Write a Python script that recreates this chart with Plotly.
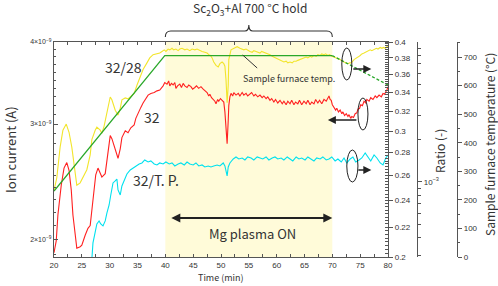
import plotly.graph_objects as go

# ---------------- data ----------------
time_yellow = [20.0, 20.5, 21.1, 21.6, 22.2, 22.7, 23.2, 23.8, 24.1, 24.7, 25.4, 25.9, 26.5, 26.8, 27.4, 27.7,
               28.3, 28.6, 29.0, 29.3, 29.7, 30.1, 30.4, 31.0, 31.5, 31.9, 32.2, 32.8, 33.3, 33.8, 34.4, 34.9,
               35.5, 36.0, 36.7, 37.2, 37.8, 38.5, 39.0, 39.4, 39.8, 40.1, 40.5, 40.8, 41.2, 41.5, 41.9, 42.3,
               42.6, 43.0, 43.5, 43.9, 44.4, 44.8, 45.3, 45.7, 46.2, 46.6, 47.1, 47.5, 47.8, 48.1, 48.4, 48.7,
               49.1, 49.5, 49.8, 50.2, 50.5, 50.7, 50.9, 51.1, 51.3, 51.4, 51.8, 52.3, 52.9, 53.4, 53.8, 54.1,
               54.5, 54.9, 55.2, 55.6, 55.9, 56.3, 56.6, 57.0, 57.3, 57.7, 58.1, 58.4, 58.8, 59.2, 59.5, 59.9,
               60.2, 60.6, 61.0, 61.3, 61.7, 62.0, 62.4, 62.8, 63.1, 63.5, 63.8, 64.2, 64.5, 64.9, 65.3, 65.6,
               66.0, 66.3, 66.7, 67.1, 67.4, 67.8, 68.1, 68.5, 68.8, 69.2, 69.5, 69.9, 70.3, 70.7, 71.0, 71.4,
               71.8, 72.1, 72.5, 72.8, 73.1, 73.4, 73.9, 74.2, 74.6, 75.0, 75.3, 75.7, 76.0, 76.4, 76.8, 77.1,
               77.5, 77.9, 78.2, 78.6, 78.9, 79.2, 79.5, 79.8, 80.0]
ratio_32_28 = [0.248, 0.258, 0.285, 0.301, 0.307, 0.299, 0.285, 0.261, 0.252, 0.254, 0.261, 0.265, 0.278, 0.292, 0.301, 0.304,
               0.301, 0.298, 0.305, 0.313, 0.327, 0.335, 0.332, 0.321, 0.316, 0.323, 0.332, 0.334, 0.333, 0.336, 0.339, 0.348,
               0.357, 0.366, 0.374, 0.380, 0.384, 0.385, 0.386, 0.388, 0.390, 0.388, 0.391, 0.390, 0.392, 0.390, 0.391, 0.389,
               0.391, 0.392, 0.390, 0.391, 0.389, 0.391, 0.390, 0.391, 0.389, 0.388, 0.387, 0.386, 0.384, 0.383, 0.380, 0.375,
               0.371, 0.369, 0.373, 0.375, 0.373, 0.370, 0.354, 0.329, 0.348, 0.378, 0.390, 0.392, 0.394, 0.392, 0.391, 0.390,
               0.391, 0.389, 0.388, 0.387, 0.389, 0.388, 0.387, 0.386, 0.388, 0.387, 0.386, 0.385, 0.384, 0.382, 0.381, 0.380,
               0.379, 0.377, 0.376, 0.375, 0.376, 0.374, 0.375, 0.374, 0.376, 0.376, 0.377, 0.378, 0.379, 0.380, 0.381, 0.380,
               0.382, 0.381, 0.383, 0.382, 0.384, 0.383, 0.385, 0.384, 0.385, 0.383, 0.384, 0.382, 0.381, 0.380, 0.379, 0.378,
               0.376, 0.375, 0.374, 0.373, 0.374, 0.374, 0.378, 0.379, 0.381, 0.383, 0.385, 0.386, 0.387, 0.389, 0.390, 0.389,
               0.390, 0.392, 0.391, 0.393, 0.392, 0.393, 0.392, 0.394, 0.395]

time_red = [20.0, 20.4, 20.7, 21.3, 21.8, 22.3, 22.7, 23.1, 23.4, 23.8, 24.1, 24.7, 25.0, 25.6, 26.1, 26.5,
            26.8, 27.2, 27.5, 27.9, 28.3, 28.6, 29.2, 29.5, 29.9, 30.1, 30.4, 30.8, 31.0, 31.3, 31.5, 31.9,
            32.2, 32.8, 33.3, 33.8, 34.4, 34.7, 35.1, 35.6, 36.0, 36.5, 36.9, 37.4, 38.0, 38.5, 39.0, 39.6,
            39.9, 40.3, 40.6, 40.8, 41.1, 41.4, 41.7, 41.9, 42.2, 42.6, 42.9, 43.2, 43.5, 43.9, 44.2, 44.6,
            44.9, 45.3, 45.6, 46.0, 46.4, 46.8, 47.1, 47.5, 47.8, 48.0, 48.3, 48.6, 48.9, 49.1, 49.4, 49.6,
            49.9, 50.2, 50.5, 50.7, 50.9, 51.1, 51.3, 51.4, 51.6, 51.8, 52.1, 52.3, 52.7, 53.1, 53.4, 53.8,
            54.1, 54.5, 54.8, 55.2, 55.5, 55.9, 56.2, 56.6, 57.0, 57.4, 57.7, 58.1, 58.4, 58.8, 59.1, 59.5,
            59.8, 60.2, 60.6, 61.0, 61.3, 61.7, 62.0, 62.4, 62.7, 63.1, 63.4, 63.8, 64.1, 64.5, 64.9, 65.3,
            65.6, 66.0, 66.3, 66.7, 67.0, 67.4, 67.7, 68.1, 68.5, 68.9, 69.2, 69.4, 69.6, 69.8, 70.0, 70.3,
            70.6, 70.8, 71.1, 71.4, 71.7, 71.9, 72.2, 72.5, 72.8, 73.0, 73.3, 73.5, 73.8, 74.1, 74.4, 74.6,
            74.9, 75.1, 75.4, 75.7, 76.0, 76.2, 76.6, 76.9, 77.3, 77.7, 78.0, 78.4, 78.8, 79.1, 79.4, 79.6,
            79.8, 80.0]
ion_32_nA = [1.91, 1.99, 2.18, 2.42, 2.57, 2.62, 2.55, 2.38, 2.18, 2.01, 1.94, 1.95, 1.96, 2.03, 2.08, 2.10,
             2.21, 2.38, 2.51, 2.57, 2.53, 2.49, 2.52, 2.64, 2.83, 2.88, 2.85, 2.78, 2.75, 2.68, 2.66, 2.75,
             2.86, 2.93, 2.91, 2.96, 2.99, 3.06, 3.12, 3.18, 3.23, 3.28, 3.32, 3.34, 3.35, 3.37, 3.38, 3.43,
             3.47, 3.45, 3.49, 3.43, 3.46, 3.44, 3.47, 3.40, 3.43, 3.45, 3.41, 3.46, 3.43, 3.41, 3.44, 3.42,
             3.39, 3.41, 3.43, 3.40, 3.42, 3.39, 3.37, 3.35, 3.31, 3.33, 3.29, 3.27, 3.25, 3.22, 3.27, 3.25,
             3.28, 3.26, 3.24, 3.13, 2.96, 2.80, 3.04, 3.20, 3.30, 3.34, 3.31, 3.35, 3.32, 3.34, 3.31, 3.35,
             3.32, 3.34, 3.31, 3.33, 3.35, 3.31, 3.33, 3.30, 3.32, 3.29, 3.31, 3.28, 3.30, 3.26, 3.28, 3.24,
             3.27, 3.23, 3.26, 3.22, 3.25, 3.21, 3.25, 3.22, 3.26, 3.21, 3.24, 3.22, 3.26, 3.21, 3.25, 3.22,
             3.26, 3.21, 3.24, 3.22, 3.27, 3.23, 3.26, 3.22, 3.27, 3.25, 3.29, 3.31, 3.27, 3.26, 3.21, 3.18,
             3.15, 3.17, 3.13, 3.15, 3.11, 3.13, 3.09, 3.11, 3.08, 3.10, 3.06, 3.08, 3.07, 3.11, 3.12, 3.16,
             3.17, 3.21, 3.20, 3.25, 3.23, 3.27, 3.25, 3.29, 3.27, 3.31, 3.29, 3.32, 3.30, 3.34, 3.33, 3.36,
             3.38, 3.42]

time_cyan = [26.8, 27.0, 27.4, 27.7, 28.1, 28.4, 28.8, 29.2, 29.5, 29.9, 30.2, 30.6, 31.0, 31.3, 31.5, 31.9,
             32.2, 32.6, 33.1, 33.7, 34.2, 34.7, 35.3, 35.8, 36.3, 36.9, 37.4, 38.0, 38.5, 39.0, 39.6, 40.1,
             40.7, 41.2, 41.7, 42.3, 42.8, 43.4, 43.9, 44.4, 45.0, 45.5, 46.0, 46.6, 47.1, 47.7, 48.2, 48.7,
             49.3, 49.8, 50.4, 50.7, 51.1, 51.3, 51.6, 52.2, 52.7, 53.2, 53.8, 54.3, 54.8, 55.4, 55.9, 56.5,
             57.0, 57.5, 58.1, 58.6, 59.2, 59.7, 60.2, 60.8, 61.3, 61.9, 62.4, 62.9, 63.5, 64.0, 64.5, 65.1,
             65.6, 66.2, 66.7, 67.2, 67.8, 68.3, 68.9, 69.4, 69.9, 70.5, 71.0, 71.6, 72.1, 72.6, 73.2, 73.7,
             74.2, 74.8, 75.3, 75.9, 76.4, 76.9, 77.5, 78.0, 78.6, 79.1, 79.6, 80.0]
ratio_32_tp_e3 = [0.28, 0.367, 0.439, 0.501, 0.527, 0.501, 0.485, 0.527, 0.600, 0.685, 0.807, 0.984, 1.017, 1.050, 0.877, 0.807,
                  0.936, 1.033, 1.141, 1.218, 1.259, 1.301, 1.345, 1.367, 1.436, 1.389, 1.413, 1.345, 1.323, 1.367, 1.345, 1.389,
                  1.345, 1.367, 1.301, 1.345, 1.367, 1.323, 1.389, 1.345, 1.323, 1.367, 1.301, 1.323, 1.280, 1.301, 1.280, 1.301,
                  1.323, 1.301, 1.367, 1.301, 1.104, 1.280, 1.367, 1.460, 1.509, 1.460, 1.484, 1.436, 1.509, 1.484, 1.436, 1.509,
                  1.484, 1.460, 1.509, 1.436, 1.484, 1.509, 1.460, 1.484, 1.436, 1.509, 1.460, 1.413, 1.509, 1.460, 1.484, 1.436,
                  1.509, 1.460, 1.413, 1.484, 1.460, 1.509, 1.436, 1.460, 1.509, 1.413, 1.460, 1.389, 1.484, 1.367, 1.460, 1.509,
                  1.389, 1.436, 1.484, 1.611, 1.509, 1.413, 1.559, 1.484, 1.367, 1.323, 1.484, 1.559]

temp_time = [20, 39.9, 70]
temp_c = [231, 705, 705]
temp_time_cool = [70, 80]
temp_c_cool = [705, 602]

x_ticks = [20, 25, 30, 35, 40, 45, 50, 55, 60, 65, 70, 75, 80]
ion_ticks = [2e-9, 3e-9, 4e-9]
ion_tick_text = ["2×10<sup>−9</sup>", "3×10<sup>−9</sup>", "4×10<sup>−9</sup>"]
ratio_ticks = [0.2, 0.22, 0.24, 0.26, 0.28, 0.3, 0.32, 0.34, 0.36, 0.38, 0.4]
ratio_tick_text = ["0.2", "0.22", "0.24", "0.26", "0.28", "0.3", "0.32", "0.34", "0.36", "0.38", "0.4"]
tp_ticks = [1e-3]
tp_tick_text = ["10<sup>−3</sup>"]
temp_ticks = [0, 100, 200, 300, 400, 500, 600, 700]

# ---------------- layout geometry (window pixels; body margin removed below) ----------------
W, H = 498, 286
PLOT_L, PLOT_R, PLOT_T, PLOT_B = 54, 388, 42, 257
L, T, B = PLOT_L, PLOT_T, H - PLOT_B
R = 30
PW = W - L - R
PH = H - T - B


def px_x(px):
    return (px - L) / PW


def px_y(py):
    return (H - B - py) / PH


AX = "#555555"
TXT = "#333333"
FONT = "Noto Sans CJK JP"
TFONT = "Liberation Sans"

fig = go.Figure()
fig.add_trace(go.Scatter(x=time_yellow, y=ratio_32_28, yaxis="y2", mode="lines",
                         line=dict(color="#F2E52C", width=1.1), showlegend=False))
fig.add_trace(go.Scatter(x=time_red, y=[v * 1e-9 for v in ion_32_nA], yaxis="y", mode="lines",
                         line=dict(color="#FF2020", width=1.1), showlegend=False))
fig.add_trace(go.Scatter(x=time_cyan, y=[v * 1e-3 for v in ratio_32_tp_e3], yaxis="y3", mode="lines",
                         line=dict(color="#00E1EE", width=1.1), showlegend=False))
fig.add_trace(go.Scatter(x=temp_time, y=temp_c, yaxis="y4", mode="lines",
                         line=dict(color="#2AA82A", width=1.3), showlegend=False))
fig.add_trace(go.Scatter(x=temp_time_cool, y=temp_c_cool, yaxis="y4", mode="lines",
                         line=dict(color="#2AA82A", width=1.3, dash="3px,2px"), showlegend=False))

ion_minor = [v * 1e-10 for v in [19, 21, 22, 23, 24, 25, 26, 27, 28, 29, 31, 32, 33, 34, 35, 36, 37, 38, 39]]
ratio_minor = [0.2 + 0.0025 * i for i in range(81)]
tp_minor = [3e-4, 4e-4, 5e-4, 6e-4, 7e-4, 8e-4, 9e-4, 2e-3, 3e-3, 4e-3, 5e-3, 6e-3, 7e-3, 8e-3, 9e-3]

axis_common = dict(showgrid=False, zeroline=False, showline=True, linecolor=AX, linewidth=1.2,
                   tickcolor=AX, automargin=False, tickfont=dict(family=TFONT, size=8, color=TXT))

fig.update_layout(
    width=W, height=H, margin=dict(l=L, r=R, t=T, b=B, autoexpand=False),
    plot_bgcolor="white", paper_bgcolor="white", showlegend=False,
    xaxis=dict(range=[20, 80], domain=[0, px_x(PLOT_R)], tickvals=x_ticks, ticks="inside", ticklen=3,
               mirror="ticks", minor=dict(ticks="inside", ticklen=3, dtick=2.5, tickcolor=AX),
               **axis_common),
    yaxis=dict(type="log", range=[-8.7256, -8.3979], side="left", tickvals=ion_ticks, ticktext=ion_tick_text,
               ticks="inside", ticklen=4, minor=dict(ticks="inside", ticklen=2, tickvals=ion_minor, tickcolor=AX),
               **{**axis_common, "tickfont": dict(family=TFONT, size=7, color=TXT)}),
    yaxis2=dict(type="log", range=[-0.69897, -0.39794], overlaying="y", side="right", anchor="x",
                tickvals=ratio_ticks, ticktext=ratio_tick_text, ticks="outside", ticklen=4,
                minor=dict(ticks="inside", ticklen=3, tickvals=ratio_minor, tickcolor=AX), **axis_common),
    yaxis3=dict(type="log", range=[-3.536, -2.0], overlaying="y", side="right", anchor="free",
                position=px_x(417), tickvals=tp_ticks, ticktext=tp_tick_text, ticks="outside", ticklen=4,
                minor=dict(ticks="outside", ticklen=3, tickvals=tp_minor, tickcolor=AX), **axis_common),
    yaxis4=dict(range=[0, 752.5], overlaying="y", side="right", anchor="free", position=px_x(457),
                tickvals=temp_ticks, ticks="outside", ticklen=4,
                minor=dict(ticks="outside", ticklen=2, dtick=50, tickcolor=AX), **axis_common),
)

shapes = [
    dict(type="rect", xref="x", yref="paper", x0=40, x1=70, y0=0, y1=1, fillcolor="#FFFBD9",
         line=dict(width=0), layer="below"),
    # bracket over hold period
    dict(type="path", xref="x", yref="paper",
         path=f"M 40,{px_y(37)} Q 40,{px_y(31)} 41,{px_y(31)} L 54.3,{px_y(31)} Q 55,{px_y(31)} 55,{px_y(25)} "
              f"Q 55,{px_y(31)} 55.7,{px_y(31)} L 69,{px_y(31)} Q 70,{px_y(31)} 70,{px_y(37)}",
         line=dict(color="#333333", width=1.1)),
    # ellipses
    dict(type="circle", xref="x", yref="paper", x0=71.7, x1=73.5, y0=px_y(80), y1=px_y(48),
         line=dict(color="#222222", width=1)),
    dict(type="circle", xref="x", yref="paper", x0=74.6, x1=76.4, y0=px_y(130), y1=px_y(98),
         line=dict(color="#222222", width=1)),
    dict(type="circle", xref="x", yref="paper", x0=72.6, x1=74.6, y0=px_y(182), y1=px_y(150),
         line=dict(color="#222222", width=1)),
    # pointer for furnace temperature label
    dict(type="line", xref="x", yref="paper", x0=53.9, x1=56.5, y0=px_y(55), y1=px_y(68),
         line=dict(color="#333333", width=1)),
]
fig.update_layout(shapes=shapes)

ann = []


def text(x, y, s, size, xref="x", angle=0, color=TXT):
    ann.append(dict(x=x, y=y, xref=xref, yref="paper", text=s, showarrow=False, textangle=angle,
                    font=dict(family=FONT, size=size, color=color), xanchor="center", yanchor="middle"))


text(32.4, px_y(67), "32/28", 14)
text(37.6, px_y(117), "32", 14)
text(38.3, px_y(180), "32/T. P.", 14)
text(55.6, px_y(233), "Mg plasma ON", 13)
text(62.2, px_y(78), "Sample furnace temp.", 9)
text(55.2, px_y(9), "Sc<sub>2</sub>O<sub>3</sub>+Al 700 °C hold", 12)
text(50.0, px_y(277), "Time (min)", 9)
text(px_x(10), px_y(150), "Ion current (A)", 13, xref="paper", angle=-90)
text(px_x(439), px_y(151), "Ratio (-)", 12, xref="paper", angle=-90)
text(px_x(489), px_y(145), "Sample furnace temperature (°C)", 12, xref="paper", angle=-90)


def arrow(x_head, x_tail, y, both=False, width=1.6):
    ann.append(dict(x=x_head, y=y, xref="x", yref="paper", ax=x_tail, ay=0, axref="x", ayref="pixel",
                    showarrow=True, arrowhead=2, arrowsize=1, arrowwidth=width, arrowcolor="#222222",
                    arrowside="end+start" if both else "end", startarrowhead=2, startarrowsize=1,
                    standoff=0, startstandoff=0, text=""))


arrow(70.0, 40.8, px_y(218), both=True, width=1.8)
arrow(77.0, 73.5, px_y(69))
arrow(69.2, 74.6, px_y(120))
arrow(77.0, 74.4, px_y(170))

fig.update_layout(annotations=ann)
fig.write_html("out.html", config={"displayModeBar": False},
               post_script="document.body.style.margin='0';document.body.style.overflow='hidden';")
